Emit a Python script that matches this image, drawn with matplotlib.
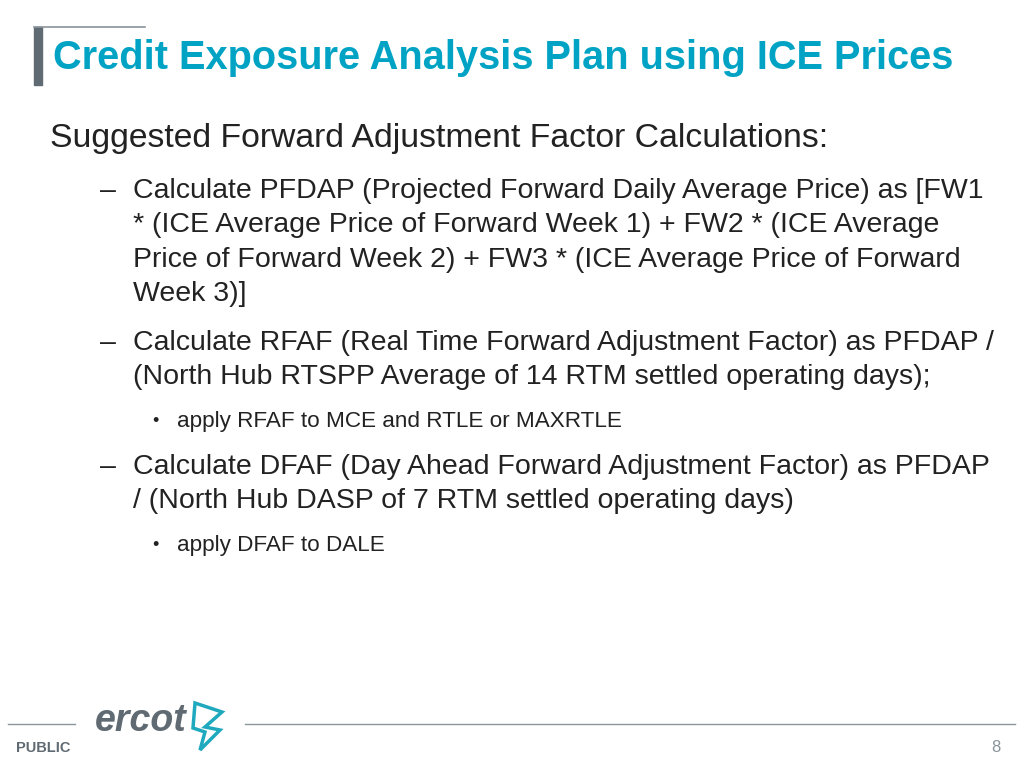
import matplotlib
matplotlib.use("Agg")
import matplotlib.pyplot as plt
from matplotlib.lines import Line2D
from matplotlib.patches import Rectangle, Polygon

title = "Credit Exposure Analysis Plan using ICE Prices"
heading = "Suggested Forward Adjustment Factor Calculations:"
dash_blocks = [
    ["Calculate PFDAP (Projected Forward Daily Average Price) as [FW1",
     "* (ICE Average Price of Forward Week 1) + FW2 * (ICE Average",
     "Price of Forward Week 2) + FW3 * (ICE Average Price of Forward",
     "Week 3)]"],
    ["Calculate RFAF (Real Time Forward Adjustment Factor) as PFDAP /",
     "(North Hub RTSPP Average of 14 RTM settled operating days);"],
    ["Calculate DFAF (Day Ahead Forward Adjustment Factor) as PFDAP",
     "/ (North Hub DASP of 7 RTM settled operating days)"],
]
block_y = [191, 343, 467]
bullets = ["apply RFAF to MCE and RTLE or MAXRTLE", "apply DFAF to DALE"]
bullet_y = [421, 546]
page = "8"

W, H = 1024, 768
plt.rcParams["font.family"] = "Liberation Sans"
fig = plt.figure(figsize=(W/100, H/100), dpi=100)

def T(x, y, s, **kw):
    fig.text(x/W, 1-y/H, s, va="center", **kw)

def L(x0, x1, y, c, lw):
    fig.add_artist(Line2D([x0/W, x1/W], [1-y/H, 1-y/H], color=c, lw=lw, transform=fig.transFigure))

fig.add_artist(Rectangle((34/W, 1-85/H), 8/W, 58/H, color="#5f6a72", transform=fig.transFigure))
L(34, 145, 27, "#8a949b", 1.2)
T(53, 58, title, fontsize=28.6, fontweight="bold", color="#00a3c4")

T(50, 139, heading, fontsize=24.3, color="#222222")
for y0, lines in zip(block_y, dash_blocks):
    T(100, y0, "–", fontsize=20.5, color="#222222")
    for i, s in enumerate(lines):
        T(133, y0 + 34.3*i, s, fontsize=20.5, color="#222222")
for y, s in zip(bullet_y, bullets):
    T(152, y, "•", fontsize=13, color="#222222")
    T(177, y, s, fontsize=16.2, color="#222222")

L(8, 75, 724, "#8a949b", 1)
L(245, 1015, 724, "#8a949b", 1)
T(95, 721, "ercot", fontsize=27, fontstyle="italic", fontweight="bold", color="#5f6a72")
fig.add_artist(Polygon([(195/W, 1-703/H), (222/W, 1-712/H), (205/W, 1-727/H), (220/W, 1-730/H),
                        (200/W, 1-750/H), (205/W, 1-732/H), (193/W, 1-728/H)],
                       closed=True, fill=False, edgecolor="#1fa9bf", lw=2.5, transform=fig.transFigure))
T(16, 748, "PUBLIC", fontsize=10.5, fontweight="bold", color="#5f6a72")
T(1000, 748, page, fontsize=12, color="#8a949b", ha="right")

fig.savefig("out.png", dpi=100)
